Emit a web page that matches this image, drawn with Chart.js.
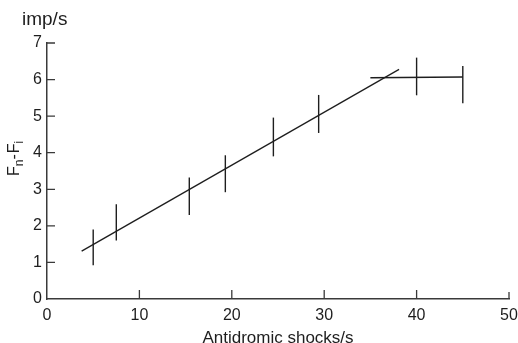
<!DOCTYPE html>
<html>
<head>
<meta charset="utf-8">
<script src="https://cdn.jsdelivr.net/npm/chart.js@4/dist/chart.umd.min.js"></script>
<style>
  html, body { margin: 0; padding: 0; background: #fff; }
  canvas { display: block; }
</style>
</head>
<body>
<canvas id="chart" width="518" height="343"></canvas>
<script>
// measured values (x = antidromic shocks/s, y = Fn - Fi in imp/s)
const barX = [5, 7.5, 15.4, 19.3, 24.5, 29.4, 40, 45];
const barLow = [0.92, 1.6, 2.3, 2.92, 3.9, 4.54, 5.57, 5.35];
const barHigh = [1.9, 2.59, 3.32, 3.93, 4.96, 5.58, 6.6, 6.37];

// fitted regression line and plateau
const fitX = [3.75, 38.1];
const fitY = [1.31, 6.28];
const plateauX = [35, 45];
const plateauY = [6.05, 6.07];

const xTicks = [0, 10, 20, 30, 40, 50];
const yTicks = [0, 1, 2, 3, 4, 5, 6, 7];

const INK = "#1e1e1e";
const AXIS = "#3a3a3a";
const FONT = "'Liberation Sans', Arial, Helvetica, sans-serif";

function pts(xs, ys) {
  return xs.map(function (x, i) { return { x: x, y: ys[i] }; });
}

const datasets = [
  { data: pts(fitX, fitY), borderColor: INK, borderWidth: 1.3 },
  { data: pts(plateauX, plateauY), borderColor: INK, borderWidth: 1.6 }
];
barX.forEach(function (x, i) {
  datasets.push({
    data: [{ x: x, y: barLow[i] }, { x: x, y: barHigh[i] }],
    borderColor: INK,
    borderWidth: 1.4
  });
});
datasets.forEach(function (d) {
  d.showLine = true;
  d.pointRadius = 0;
  d.clip = false;
});

// inward tick marks plus the y-axis labels
const decorations = {
  id: "decorations",
  afterDraw: function (chart) {
    const ctx = chart.ctx;
    const xs = chart.scales.x;
    const ys = chart.scales.y;
    const area = chart.chartArea;
    ctx.save();
    ctx.strokeStyle = AXIS;
    ctx.lineWidth = 1.3;
    ctx.beginPath();
    xTicks.forEach(function (v) {
      if (v === 0) return;
      const px = xs.getPixelForValue(v);
      ctx.moveTo(px, area.bottom);
      ctx.lineTo(px, area.bottom - (v === 50 ? 7 : 9));
    });
    yTicks.forEach(function (v) {
      if (v === 0) return;
      const py = ys.getPixelForValue(v);
      ctx.moveTo(area.left, py);
      ctx.lineTo(area.left + 8, py);
    });
    ctx.stroke();

    // unit label above the y axis
    ctx.fillStyle = INK;
    ctx.textBaseline = "alphabetic";
    ctx.textAlign = "left";
    ctx.font = "19px " + FONT;
    ctx.fillText("imp/s", 22, 25);

    // rotated y title with subscripts: Fn - Fi
    ctx.translate(18.5, 176);
    ctx.rotate(-Math.PI / 2);
    const parts = [
      ["F", 16, 0], ["n", 12, 4], ["-", 16, 0], ["F", 16, 0], ["i", 12, 4]
    ];
    let cx = 0;
    parts.forEach(function (p) {
      ctx.font = p[1] + "px " + FONT;
      ctx.fillText(p[0], cx, p[2]);
      cx += ctx.measureText(p[0]).width + (p[0] === "-" ? 1 : 0);
    });
    ctx.restore();
  }
};

new Chart(document.getElementById("chart"), {
  type: "scatter",
  data: { datasets: datasets },
  options: {
    responsive: false,
    animation: false,
    layout: { padding: { top: 43, right: 0, left: 0, bottom: 0 } },
    plugins: { legend: { display: false }, tooltip: { enabled: false } },
    scales: {
      x: {
        type: "linear",
        min: 0,
        max: 50,
        afterBuildTicks: function (s) { s.ticks = xTicks.map(function (v) { return { value: v }; }); },
        afterFit: function (s) {
          s.height = 44;
          s.paddingLeft = 0;
          s.paddingRight = 9;
        },
        grid: { display: true, drawOnChartArea: false, drawTicks: false },
        border: { display: true, color: AXIS, width: 1.5 },
        ticks: { color: INK, font: { family: FONT, size: 16 }, padding: 7, maxRotation: 0 },
        title: {
          display: true,
          text: "Antidromic shocks/s",
          color: INK,
          font: { family: FONT, size: 17 },
          padding: { top: 0, bottom: -6 }
        }
      },
      y: {
        type: "linear",
        min: 0,
        max: 7,
        afterBuildTicks: function (s) { s.ticks = yTicks.map(function (v) { return { value: v }; }); },
        afterFit: function (s) { s.width = 47; },
        grid: { display: true, drawOnChartArea: false, drawTicks: false },
        border: { display: true, color: AXIS, width: 1.5 },
        ticks: { color: INK, font: { family: FONT, size: 16 }, padding: 5 }
      }
    }
  },
  plugins: [decorations]
});
</script>
</body>
</html>
